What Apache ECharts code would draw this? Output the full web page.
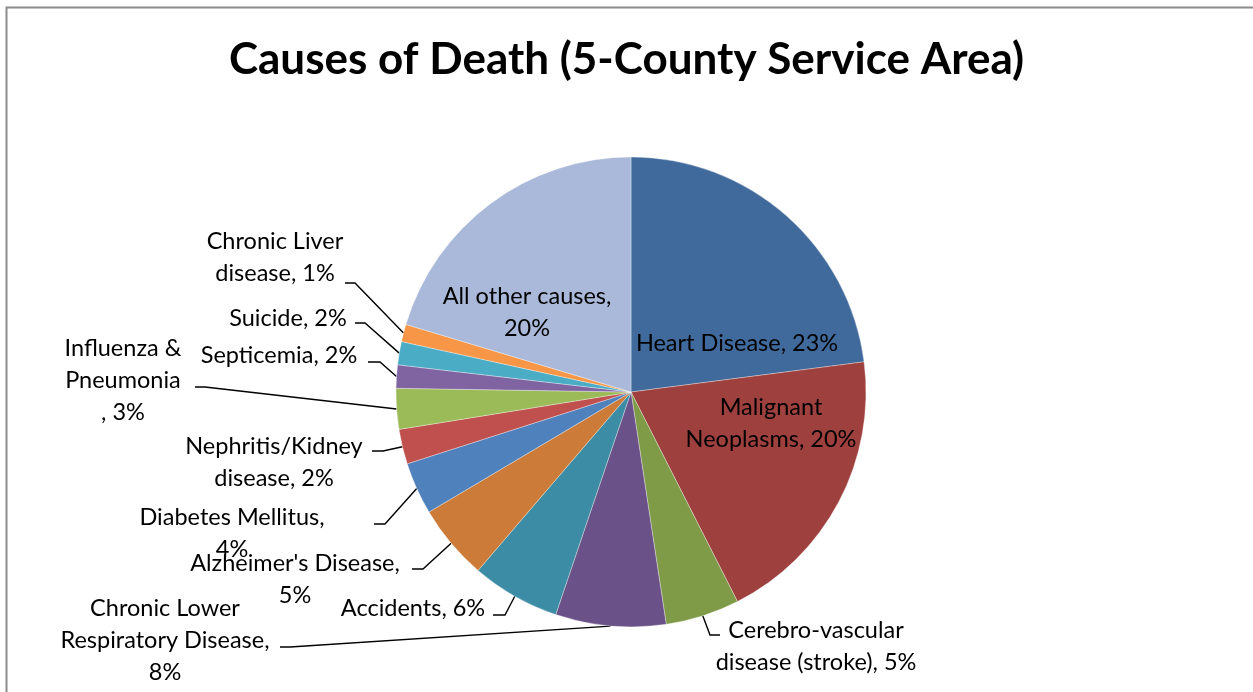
<!DOCTYPE html>
<html>
<head>
<meta charset="utf-8">
<title>Causes of Death</title>
<script src="https://cdn.jsdelivr.net/npm/echarts@6/dist/echarts.min.js"></script>
<style>
  html, body { margin: 0; padding: 0; background: #fff; }
  #chart { width: 1253px; height: 692px; }
</style>
</head>
<body>
<div id="chart"></div>
<script>
// slice shares in percent (clockwise from 12 o'clock)
const causes = [
  'Heart Disease',
  'Malignant Neoplasms',
  'Cerebro-vascular disease (stroke)',
  'Chronic Lower Respiratory Disease',
  'Accidents',
  "Alzheimer's Disease",
  'Diabetes Mellitus',
  'Nephritis/Kidney disease',
  'Influenza & Pneumonia',
  'Septicemia',
  'Suicide',
  'Chronic Liver disease',
  'All other causes'
];
const shares = [23.0, 19.6, 5.1, 7.6, 6.1, 5.2, 3.6, 2.4, 2.8, 1.6, 1.6, 1.2, 20.4];

// how each label is broken into lines ({p} = rounded percent)
const labelText = [
  'Heart Disease, {p}%',
  'Malignant\nNeoplasms, {p}%',
  'Cerebro-vascular\ndisease (stroke), {p}%',
  'Chronic Lower\nRespiratory Disease,\n{p}%',
  'Accidents, {p}%',
  "Alzheimer's Disease,\n{p}%",
  'Diabetes Mellitus,\n{p}%',
  'Nephritis/Kidney\ndisease, {p}%',
  'Influenza &\nPneumonia\n, {p}%',
  'Septicemia, {p}%',
  'Suicide, {p}%',
  'Chronic Liver\ndisease, {p}%',
  'All other causes,\n{p}%'
];
const insideLabels = [0, 1, 12];

const colors = [
  '#416A9C', '#9E413E', '#7F9B48', '#6A5187', '#3B8CA4', '#CC7B38',
  '#4F81BD', '#C0504D', '#9BBB59', '#8064A2', '#4BACC6', '#F79646', '#AAB9D9'
];

// label placement (text centre) and leader line end / elbow, like the Excel manual layout
const labelSpots = [
  { x: 737, y: 343 },
  { x: 771, y: 423 },
  { x: 816, y: 646, end: [720, 635], elbow: [710, 635] },
  { x: 165, y: 640, end: [280, 647], elbow: [290, 647] },
  { x: 413, y: 608, end: [493, 615], elbow: [505, 615] },
  { x: 295, y: 579, end: [412, 569], elbow: [423, 569] },
  { x: 232, y: 533, end: [374, 524], elbow: [385, 524] },
  { x: 274, y: 462, end: [372, 451], elbow: [383, 451] },
  { x: 123, y: 380, end: [195, 387], elbow: [205, 387] },
  { x: 279, y: 355, end: [368, 362], elbow: [380, 362] },
  { x: 288, y: 318, end: [355, 323], elbow: [365, 323] },
  { x: 275, y: 257, end: [345, 283], elbow: [355, 283] },
  { x: 527, y: 312 }
];

const chart = echarts.init(document.getElementById('chart'), null, { renderer: 'canvas' });

const data = causes.map((name, i) => ({
  name: name,
  value: shares[i],
  itemStyle: { color: colors[i] },
  label: { position: insideLabels.includes(i) ? 'inside' : 'outside' },
  labelLine: { show: !insideLabels.includes(i) }
}));

chart.setOption({
  backgroundColor: '#fff',
  animation: false,
  title: {
    text: 'Causes of Death (5-County Service Area)',
    left: 'center',
    top: 33,
    textStyle: {
      fontFamily: 'Lato',
      fontWeight: 'bold',
      fontSize: 44,
      color: '#000'
    }
  },
  graphic: [
    {
      type: 'polyline',
      shape: { points: [[6.5, 700], [6.5, 7.5], [1260, 7.5]] },
      style: { stroke: '#8c8c8c', lineWidth: 2, fill: null },
      silent: true
    }
  ],
  series: [
    {
      type: 'pie',
      center: [631, 392],
      radius: 235,
      startAngle: 90,
      clockwise: true,
      avoidLabelOverlap: false,
      itemStyle: {
        borderColor: 'rgba(255,255,255,0.55)',
        borderWidth: 0.6
      },
      label: {
        fontFamily: 'Lato',
        fontSize: 23.5,
        lineHeight: 32,
        color: '#000',
        align: 'center',
        formatter: p => labelText[p.dataIndex].replace('{p}', Math.round(p.value))
      },
      labelLine: {
        lineStyle: { color: '#000', width: 1.4 }
      },
      labelLayout: function (params) {
        const spot = labelSpots[params.dataIndex];
        const out = { x: spot.x, y: spot.y, align: 'center', verticalAlign: 'middle' };
        if (spot.end && params.labelLinePoints) {
          out.labelLinePoints = [params.labelLinePoints[0], spot.elbow, spot.end];
        }
        return out;
      },
      data: data
    }
  ]
});
</script>
</body>
</html>
